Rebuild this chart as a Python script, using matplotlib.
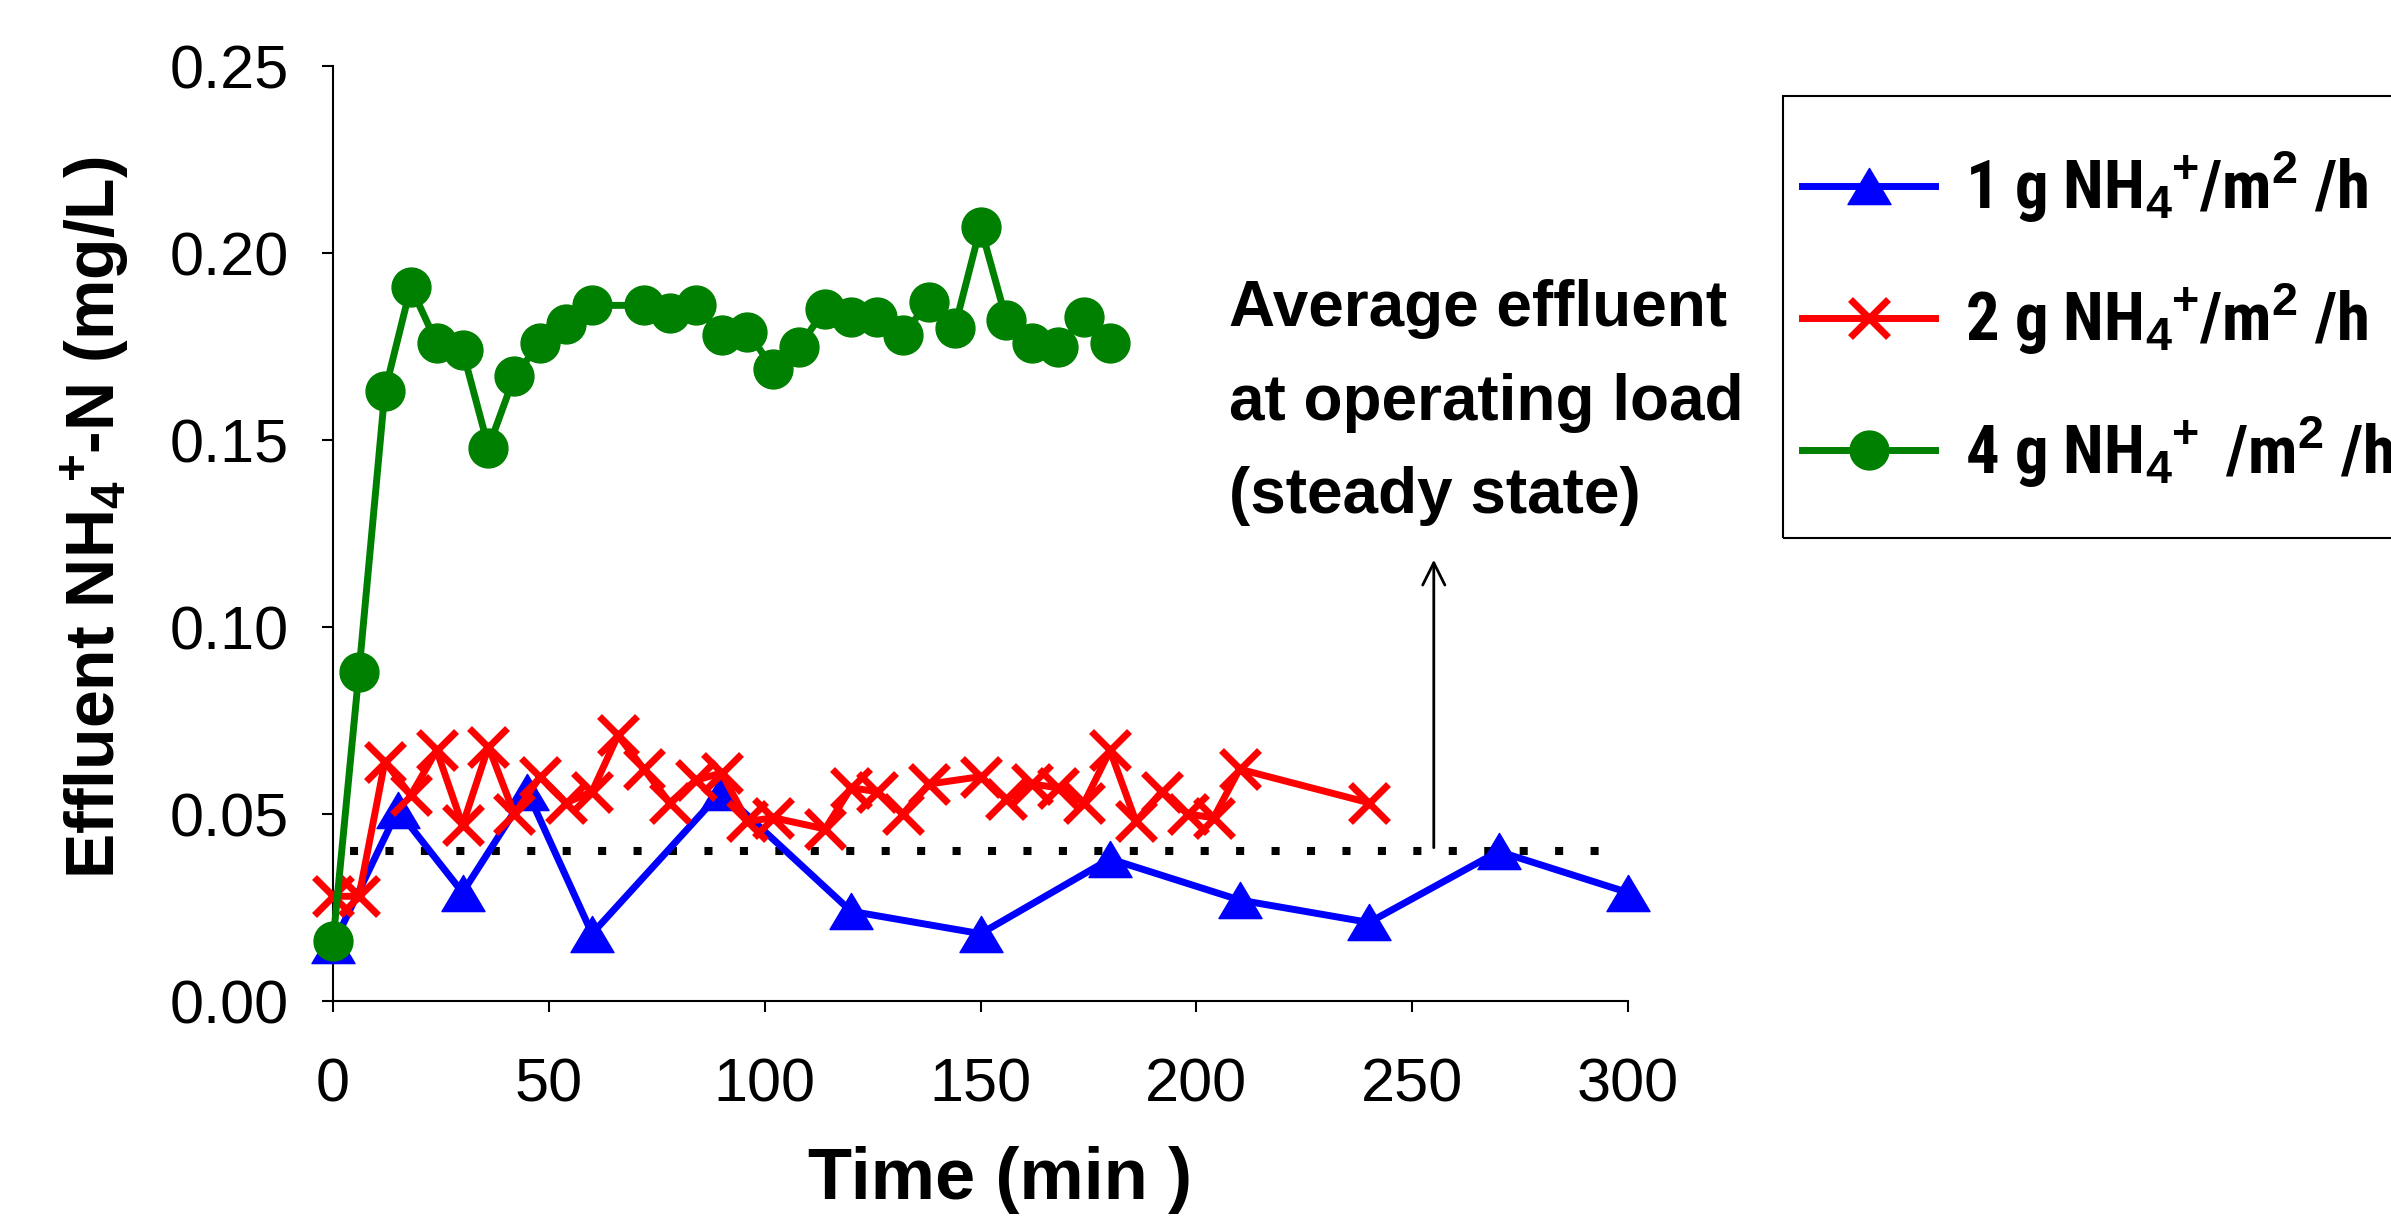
import numpy as np
import matplotlib
matplotlib.use('Agg')
import matplotlib.pyplot as plt
from matplotlib.path import Path
from matplotlib.patches import Rectangle

plt.rcParams['font.family'] = ['Liberation Sans', 'DejaVu Sans']
plt.rcParams['mathtext.fontset'] = 'custom'
plt.rcParams['mathtext.rm'] = 'Liberation Sans:bold'
plt.rcParams['mathtext.bf'] = 'Liberation Sans:bold'
plt.rcParams['mathtext.default'] = 'bf'

# 1 g NH4+/m2/h
t1 = [0, 15, 30, 45, 60, 90, 120, 150, 180, 210, 240, 270, 300]
c1 = [0.015, 0.051, 0.029, 0.056, 0.018, 0.056, 0.024, 0.018, 0.038, 0.027, 0.021, 0.040, 0.029]

# 2 g NH4+/m2/h
t2 = [0, 6, 12, 18, 24, 30, 36, 42, 48, 54, 60, 66, 72, 78, 84, 90, 96, 102,
      114, 120, 126, 132, 138, 150, 156, 162, 168, 174, 180, 186, 192, 198, 204, 210, 240]
c2 = [0.028, 0.028, 0.064, 0.055, 0.067, 0.047, 0.068, 0.050, 0.060, 0.053, 0.056, 0.071,
      0.062, 0.053, 0.059, 0.061, 0.048, 0.049, 0.046, 0.057, 0.056, 0.050, 0.058, 0.060,
      0.054, 0.058, 0.057, 0.053, 0.067, 0.048, 0.056, 0.050, 0.049, 0.062, 0.053]

# 4 g NH4+/m2/h
t3 = [0, 6, 12, 18, 24, 30, 36, 42, 48, 54, 60, 72, 78, 84, 90, 96, 102, 108, 114, 120,
      126, 132, 138, 144, 150, 156, 162, 168, 174, 180]
c3 = [0.016, 0.088, 0.163, 0.191, 0.176, 0.174, 0.148, 0.167, 0.176, 0.181, 0.186, 0.186,
      0.184, 0.186, 0.178, 0.179, 0.169, 0.175, 0.185, 0.183, 0.183, 0.178, 0.187, 0.180,
      0.207, 0.182, 0.176, 0.175, 0.183, 0.176]

# average effluent at operating load
avg_x = [4, 298]
avg_y = [0.04, 0.04]

labels = [r'1 g NH$_4\!{}^+\!$/m$^2$ /h', r'2 g NH$_4\!{}^+\!$/m$^2$ /h',
          r'4 g NH$_4\!{}^+$ /m$^2$ /h']

# wider-than-tall triangle like the Excel marker
tri = Path([(-1, -0.84), (1, -0.84), (0, 0.84), (-1, -0.84)],
           [Path.MOVETO, Path.LINETO, Path.LINETO, Path.CLOSEPOLY])

fig = plt.figure(figsize=(23.91, 12.16), dpi=100)
ax = fig.add_axes([0.1393, 0.1768, 0.5416, 0.7689])

ax.plot(avg_x, avg_y, color='black', lw=5.8, dashes=(1, 3.4),
        dash_capstyle='butt', clip_on=False, zorder=2)
l1, = ax.plot(t1, c1, color='#0000ff', lw=5, marker=tri, ms=31, clip_on=False, zorder=3)
l2, = ax.plot(t2, c2, color='#ff0000', lw=5, marker='x', ms=28, mew=5, clip_on=False, zorder=4)
l3, = ax.plot(t3, c3, color='#008000', lw=5, marker='o', ms=28, clip_on=False, zorder=5)

ax.annotate('', xy=(255, 0.118), xytext=(255, 0.041),
            arrowprops=dict(arrowstyle='->', lw=2, color='black', mutation_scale=40,
                            shrinkA=0, shrinkB=0))
ax.text(207.5, 0.193, 'Average effluent\nat operating load\n(steady state)',
        fontsize=46, fontweight='bold', va='top', ha='left', linespacing=1.71)

ax.set_xlim(0, 300)
ax.set_ylim(0, 0.25)
ax.set_xticks(np.arange(0, 301, 50))
ax.set_yticks(np.arange(0, 0.251, 0.05))
ax.set_yticklabels(['%.2f' % v for v in np.arange(0, 0.251, 0.05)])
ax.tick_params(axis='both', direction='out', length=8, width=1.5, labelsize=44, colors='black')
ax.tick_params(axis='y', pad=24)
ax.tick_params(axis='x', pad=33)
for s in ['top', 'right']:
    ax.spines[s].set_visible(False)
for s in ['left', 'bottom']:
    ax.spines[s].set_linewidth(1.5)

ax.set_xlabel('Time (min )', fontsize=52, fontweight='bold')
ax.set_ylabel(r'Effluent NH$_4\!{}^+\!$-N (mg/L)', fontsize=49, fontweight='bold')
ax.xaxis.set_label_coords(0.515, -0.155)
ax.yaxis.set_label_coords(-0.155, 0.517)

# legend box drawn on its own, it runs off the right edge like in the original
fig.patches.append(Rectangle((1783 / 2391, 1 - 538 / 1216), 0.5, 442 / 1216,
                             transform=fig.transFigure, fill=False, ec='black', lw=1.5))
narrow = ['Liberation Sans Narrow', 'Arial Narrow', 'Roboto Condensed', 'Archivo Narrow',
          'Liberation Sans']
leg = fig.legend([l1, l2, l3], labels, loc='upper left', bbox_to_anchor=(1802 / 2391, 1 - 150 / 1216),
                 prop={'family': narrow, 'size': 48, 'weight': 'bold'},
                 frameon=False, handlelength=2.0, handletextpad=0.45,
                 labelspacing=0.85, borderpad=0, borderaxespad=0)

fig.savefig('out.png', dpi=100)
